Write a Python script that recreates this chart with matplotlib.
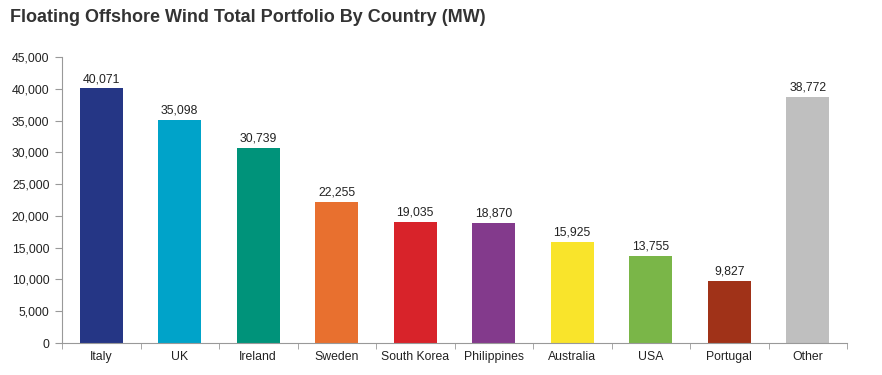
import matplotlib
matplotlib.use("Agg")
import matplotlib.pyplot as plt
from matplotlib.ticker import FuncFormatter, FixedLocator

plt.rcParams['font.family'] = ['Liberation Sans', 'DejaVu Sans']

countries = ["Italy", "UK", "Ireland", "Sweden", "South Korea", "Philippines",
             "Australia", "USA", "Portugal", "Other"]
values = [40071, 35098, 30739, 22255, 19035, 18870, 15925, 13755, 9827, 38772]
colors = ["#253685", "#00A3C9", "#00937A", "#E8702F", "#D8232A", "#833A8C",
          "#F9E42B", "#7AB648", "#A03218", "#BFBFBF"]
yticks = list(range(0, 45001, 5000))

fig = plt.figure(figsize=(8.82, 3.75), dpi=100)
ax = fig.add_axes([62/882, 32/375, 785/882, 286/375])

x = list(range(len(countries)))
ax.bar(x, values, width=0.55, color=colors, zorder=2)
for xi, v in zip(x, values):
    ax.text(xi, v + 500, f"{v:,}", ha="center", va="bottom", fontsize=8.8, color="#222222")

ax.set_xlim(-0.5, len(countries) - 0.5)
ax.set_ylim(0, 45000)
ax.set_yticks(yticks)
ax.yaxis.set_major_formatter(FuncFormatter(lambda v, p: f"{int(v):,}"))
ax.set_xticks(x)
ax.set_xticklabels(countries)
ax.xaxis.set_minor_locator(FixedLocator([i - 0.5 for i in range(len(countries) + 1)]))
ax.tick_params(axis="x", which="major", length=0, labelsize=8.8, labelcolor="#222222", pad=6)
ax.tick_params(axis="x", which="minor", length=4, color="#999999", direction="out")
ax.tick_params(axis="y", length=5, color="#999999", labelsize=8.8, labelcolor="#222222", pad=4)

for s in ["top", "right"]:
    ax.spines[s].set_visible(False)
for s in ["left", "bottom"]:
    ax.spines[s].set_color("#999999")
    ax.spines[s].set_linewidth(0.8)

fig.text(10/882, 1 - 18/375, "Floating Offshore Wind Total Portfolio By Country (MW)",
         fontsize=13, fontweight="bold", color="#333333", va="center", ha="left")

fig.savefig("out.png", dpi=100, facecolor="white")
